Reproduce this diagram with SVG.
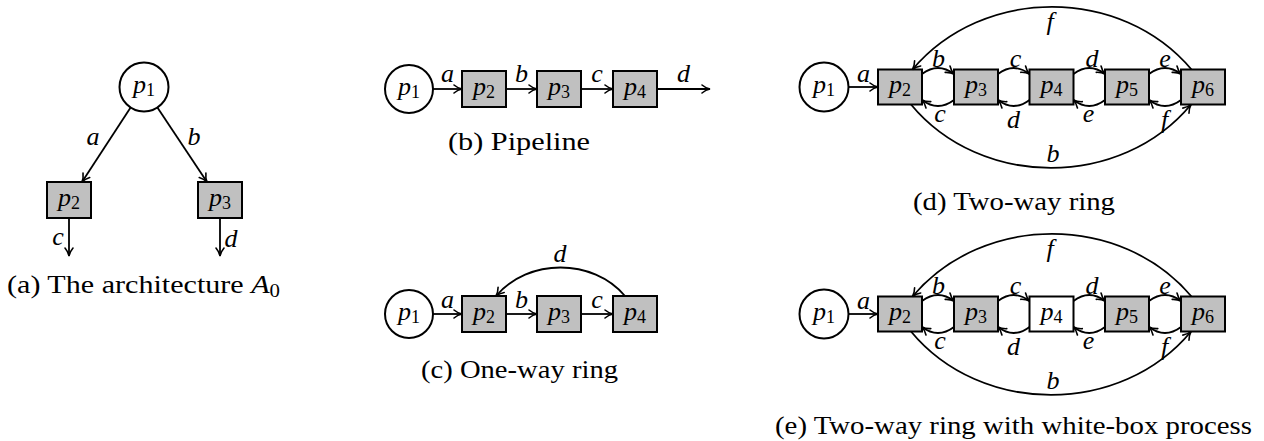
<svg xmlns="http://www.w3.org/2000/svg" width="1264" height="441" viewBox="0 0 1264 441">
<style>
.circ{fill:#fff;stroke:#000;stroke-width:2}
.gray{fill:#c0c0c0;stroke:#000;stroke-width:2}
.white{fill:#fff;stroke:#000;stroke-width:2}
.lbl{font-family:"Liberation Serif",serif;font-style:italic;font-size:26px;text-anchor:middle;fill:#000}
.sub{font-style:normal;font-size:18px}
.cap{font-family:"Liberation Serif",serif;font-size:26px;fill:#000}
.edge{fill:none;stroke:#000;stroke-width:1.8;marker-end:url(#arr)}
</style>
<defs>
<marker id="arr" markerUnits="userSpaceOnUse" markerWidth="12" markerHeight="12" refX="0" refY="0" orient="auto" overflow="visible">
<path d="M-8,-4 C-5,-1.5 -2,-0.4 0,0 C-2,0.4 -5,1.5 -8,4" fill="none" stroke="#000" stroke-width="1.6" stroke-linecap="round"/>
</marker>
</defs>
<rect width="1264" height="441" fill="#fff"/>

<!-- (a) -->
<g id="a-p1"><circle class="circ" cx="144" cy="87" r="24.5"/><text class="lbl" x="144" y="93">p<tspan class="sub" dy="3">1</tspan></text></g>
<g id="a-p2"><rect class="gray" x="47" y="182" width="44" height="36"/><text class="lbl" x="69" y="206">p<tspan class="sub" dy="3">2</tspan></text></g>
<g id="a-p3"><rect class="gray" x="198" y="182" width="44" height="36"/><text class="lbl" x="220" y="206">p<tspan class="sub" dy="3">3</tspan></text></g>
<g id="a-connectors">
<path class="edge" d="M130.6,107.5 L82,182"/>
<path class="edge" d="M157.4,107.5 L207,182"/>
<path class="edge" d="M69,218 L69,256"/>
<path class="edge" d="M220,218 L220,256"/>
<text class="lbl" x="93" y="145">a</text>
<text class="lbl" x="194" y="145">b</text>
<text class="lbl" x="58" y="245">c</text>
<text class="lbl" x="231" y="247">d</text>
</g>
<text class="cap" x="7" y="293" textLength="273" lengthAdjust="spacingAndGlyphs">(a) The architecture <tspan font-style="italic">A</tspan><tspan font-size="18" dy="4">0</tspan></text>

<!-- (b) -->
<g id="b-p1"><circle class="circ" cx="409" cy="89" r="24"/><text class="lbl" x="409" y="95">p<tspan class="sub" dy="3">1</tspan></text></g>
<g id="b-p2"><rect class="gray" x="462" y="71" width="44" height="36"/><text class="lbl" x="484" y="95">p<tspan class="sub" dy="3">2</tspan></text></g>
<g id="b-p3"><rect class="gray" x="537" y="71" width="44" height="36"/><text class="lbl" x="559" y="95">p<tspan class="sub" dy="3">3</tspan></text></g>
<g id="b-p4"><rect class="gray" x="613" y="71" width="44" height="36"/><text class="lbl" x="635" y="95">p<tspan class="sub" dy="3">4</tspan></text></g>
<g id="b-connectors">
<path class="edge" d="M433,89 L462,89"/>
<path class="edge" d="M506,89 L537,89"/>
<path class="edge" d="M581,89 L613,89"/>
<path class="edge" d="M657,89 L710,89"/>
<text class="lbl" x="447.5" y="82">a</text>
<text class="lbl" x="521.5" y="82">b</text>
<text class="lbl" x="597" y="82">c</text>
<text class="lbl" x="683.5" y="82">d</text>
</g>
<text class="cap" x="448" y="150" textLength="142" lengthAdjust="spacingAndGlyphs">(b) Pipeline</text>

<!-- (c) -->
<g id="c-p1"><circle class="circ" cx="409" cy="314" r="24"/><text class="lbl" x="409" y="320">p<tspan class="sub" dy="3">1</tspan></text></g>
<g id="c-p2"><rect class="gray" x="462" y="296" width="44" height="36"/><text class="lbl" x="484" y="320">p<tspan class="sub" dy="3">2</tspan></text></g>
<g id="c-p3"><rect class="gray" x="537" y="296" width="44" height="36"/><text class="lbl" x="559" y="320">p<tspan class="sub" dy="3">3</tspan></text></g>
<g id="c-p4"><rect class="gray" x="613" y="296" width="44" height="36"/><text class="lbl" x="635" y="320">p<tspan class="sub" dy="3">4</tspan></text></g>
<g id="c-connectors">
<path class="edge" d="M433,314 L462,314"/>
<path class="edge" d="M506,314 L537,314"/>
<path class="edge" d="M581,314 L613,314"/>
<path class="edge" d="M625,296 C593,258 528,258 496,296"/>
<text class="lbl" x="447.5" y="308">a</text>
<text class="lbl" x="521.5" y="308">b</text>
<text class="lbl" x="597" y="308">c</text>
<text class="lbl" x="560" y="262">d</text>
</g>
<text class="cap" x="421" y="378" textLength="197" lengthAdjust="spacingAndGlyphs">(c) One-way ring</text>

<!-- (d) -->
<g id="d-p1"><circle class="circ" cx="824" cy="87" r="24.5"/><text class="lbl" x="824" y="93">p<tspan class="sub" dy="3">1</tspan></text></g>
<g id="d-p2"><rect class="gray" x="878" y="69.5" width="44" height="35"/><text class="lbl" x="900" y="93">p<tspan class="sub" dy="3">2</tspan></text></g>
<g id="d-p3"><rect class="gray" x="954" y="69.5" width="44" height="35"/><text class="lbl" x="976" y="93">p<tspan class="sub" dy="3">3</tspan></text></g>
<g id="d-p4"><rect class="gray" x="1029.5" y="69.5" width="44" height="35"/><text class="lbl" x="1051.5" y="93">p<tspan class="sub" dy="3">4</tspan></text></g>
<g id="d-p5"><rect class="gray" x="1105" y="69.5" width="44" height="35"/><text class="lbl" x="1127" y="93">p<tspan class="sub" dy="3">5</tspan></text></g>
<g id="d-p6"><rect class="gray" x="1181" y="69.5" width="44" height="35"/><text class="lbl" x="1203" y="93">p<tspan class="sub" dy="3">6</tspan></text></g>
<g id="d-connectors">
<path class="edge" d="M848.5,87 L878,87"/>
<path class="edge" d="M922,74 Q938,62 954,74"/>
<path class="edge" d="M998,74 Q1013.75,62 1029.5,74"/>
<path class="edge" d="M1073.5,74 Q1089.25,62 1105,74"/>
<path class="edge" d="M1149,74 Q1165,62 1181,74"/>
<path class="edge" d="M954,100 Q938,112 922,100"/>
<path class="edge" d="M1029.5,100 Q1013.75,112 998,100"/>
<path class="edge" d="M1105,100 Q1089.25,112 1073.5,100"/>
<path class="edge" d="M1181,100 Q1165,112 1149,100"/>
<path class="edge" d="M1191.5,69.5 C1121,-14 983,-14 912.5,69.5"/>
<path class="edge" d="M911,104.5 C981,189 1121,189 1191,104.5"/>
<text class="lbl" x="863.5" y="81.5">a</text>
<text class="lbl" x="938.5" y="66.5">b</text>
<text class="lbl" x="1015.5" y="66.5">c</text>
<text class="lbl" x="1092" y="66.5">d</text>
<text class="lbl" x="1165" y="66.5">e</text>
<text class="lbl" x="940" y="121.5">c</text>
<text class="lbl" x="1013.5" y="128">d</text>
<text class="lbl" x="1088.5" y="121.5">e</text>
<text class="lbl" x="1164.5" y="128">f</text>
<text class="lbl" x="1050" y="30">f</text>
<text class="lbl" x="1053" y="161.5">b</text>
</g>
<text class="cap" x="913" y="210" textLength="202" lengthAdjust="spacingAndGlyphs">(d) Two-way ring</text>

<!-- (e) -->
<g id="e-p1"><circle class="circ" cx="824" cy="314" r="24.5"/><text class="lbl" x="824" y="320">p<tspan class="sub" dy="3">1</tspan></text></g>
<g id="e-p2"><rect class="gray" x="878" y="296.5" width="44" height="35"/><text class="lbl" x="900" y="320">p<tspan class="sub" dy="3">2</tspan></text></g>
<g id="e-p3"><rect class="gray" x="954" y="296.5" width="44" height="35"/><text class="lbl" x="976" y="320">p<tspan class="sub" dy="3">3</tspan></text></g>
<g id="e-p4"><rect class="white" x="1029.5" y="296.5" width="44" height="35"/><text class="lbl" x="1051.5" y="320">p<tspan class="sub" dy="3">4</tspan></text></g>
<g id="e-p5"><rect class="gray" x="1105" y="296.5" width="44" height="35"/><text class="lbl" x="1127" y="320">p<tspan class="sub" dy="3">5</tspan></text></g>
<g id="e-p6"><rect class="gray" x="1181" y="296.5" width="44" height="35"/><text class="lbl" x="1203" y="320">p<tspan class="sub" dy="3">6</tspan></text></g>
<g id="e-connectors">
<path class="edge" d="M848.5,314 L878,314"/>
<path class="edge" d="M922,301 Q938,289 954,301"/>
<path class="edge" d="M998,301 Q1013.75,289 1029.5,301"/>
<path class="edge" d="M1073.5,301 Q1089.25,289 1105,301"/>
<path class="edge" d="M1149,301 Q1165,289 1181,301"/>
<path class="edge" d="M954,327 Q938,339 922,327"/>
<path class="edge" d="M1029.5,327 Q1013.75,339 998,327"/>
<path class="edge" d="M1105,327 Q1089.25,339 1073.5,327"/>
<path class="edge" d="M1181,327 Q1165,339 1149,327"/>
<path class="edge" d="M1191.5,296.5 C1121,213 983,213 912.5,296.5"/>
<path class="edge" d="M911,331.5 C981,416 1121,416 1191,331.5"/>
<text class="lbl" x="863.5" y="308.5">a</text>
<text class="lbl" x="938.5" y="293.5">b</text>
<text class="lbl" x="1015.5" y="293.5">c</text>
<text class="lbl" x="1092" y="293.5">d</text>
<text class="lbl" x="1165" y="293.5">e</text>
<text class="lbl" x="940" y="348.5">c</text>
<text class="lbl" x="1013.5" y="355">d</text>
<text class="lbl" x="1088.5" y="348.5">e</text>
<text class="lbl" x="1164.5" y="355">f</text>
<text class="lbl" x="1050" y="257">f</text>
<text class="lbl" x="1053" y="388.5">b</text>
</g>
<text class="cap" x="775" y="434" textLength="477" lengthAdjust="spacingAndGlyphs">(e) Two-way ring with white-box process</text>
</svg>
